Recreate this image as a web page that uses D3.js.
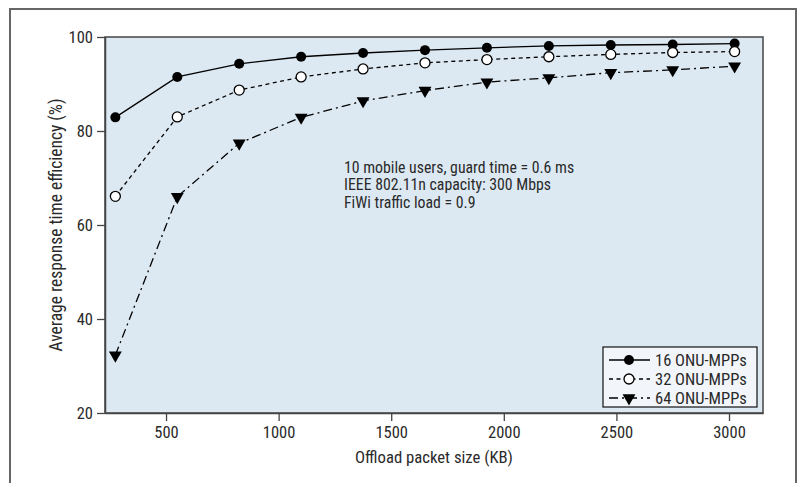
<!DOCTYPE html>
<html><head><meta charset="utf-8">
<script src="https://cdn.jsdelivr.net/npm/d3@7"></script>
<style>
body{margin:0;background:#fff;}
text{font-family:"Liberation Sans Narrow","Arial Narrow","Roboto Condensed",sans-serif;fill:#2a2a2a;}
</style></head><body>
<svg id="c" width="800" height="483"></svg>
<script>
const packetSizes = [275, 550, 825, 1100, 1375, 1650, 1925, 2200, 2475, 2750, 3025];
const eff16 = [82.9, 91.5, 94.3, 95.8, 96.6, 97.2, 97.7, 98.1, 98.3, 98.4, 98.6];
const eff32 = [66.1, 83.0, 88.7, 91.5, 93.2, 94.5, 95.2, 95.8, 96.3, 96.7, 96.9];
const eff64 = [32.3, 66.0, 77.4, 82.9, 86.4, 88.6, 90.4, 91.3, 92.4, 93.0, 93.8];
const seriesNames = ["16 ONU-MPPs", "32 ONU-MPPs", "64 ONU-MPPs"];
const xTicks = [500, 1000, 1500, 2000, 2500, 3000];
const yTicks = [20, 40, 60, 80, 100];
const noteLines = ["10 mobile users, guard time = 0.6 ms", "IEEE 802.11n capacity: 300 Mbps", "FiWi traffic load = 0.9"];

const svg = d3.select("#c");
const M = {l:105, t:37, r:763, b:413};

// outer frame (open at bottom)
svg.append("path").attr("d","M10,483V9H796V483").attr("fill","none").attr("stroke","#666").attr("stroke-width",2);

const x = d3.scaleLinear().domain([229, 3151]).range([M.l, M.r]);
const y = d3.scaleLinear().domain([20, 100]).range([M.b, M.t]);

svg.append("rect").attr("x",M.l).attr("y",M.t).attr("width",M.r-M.l).attr("height",M.b-M.t)
  .attr("fill","#dde9f2").attr("stroke","#444").attr("stroke-width",1.5);

const xa = svg.append("g").attr("transform",`translate(0,${M.b})`)
  .call(d3.axisBottom(x).tickValues(xTicks).tickFormat(d3.format("d")).tickSize(8).tickPadding(5).tickSizeOuter(0));
const ya = svg.append("g").attr("transform",`translate(${M.l},0)`)
  .call(d3.axisLeft(y).tickValues(yTicks).tickFormat(d3.format("d")).tickSize(8).tickPadding(4).tickSizeOuter(0));
[xa,ya].forEach(a=>{
  a.select(".domain").attr("stroke","#444").attr("stroke-width",1.5);
  a.selectAll(".tick line").attr("stroke","#444").attr("stroke-width",1.3);
  a.selectAll(".tick text").attr("font-size",16.5).attr("fill","#2a2a2a")
   .style("font-family",'"Liberation Sans Narrow","Arial Narrow","Roboto Condensed",sans-serif');
});

svg.append("text").attr("x",(M.l+M.r)/2).attr("y",463).attr("text-anchor","middle")
  .attr("font-size",16.7).text("Offload packet size (KB)");
svg.append("text").attr("transform",`translate(62,${(M.t+M.b)/2}) rotate(-90)`)
  .attr("text-anchor","middle").attr("font-size",17.5).text("Average response time efficiency (%)");

const series = [
  {vals:eff16, dash:null, marker:"dot"},
  {vals:eff32, dash:"4,3.5", marker:"open"},
  {vals:eff64, dash:"9,4,2,4", marker:"tri"}
];
const line = d3.line().x((d,i)=>x(packetSizes[i])).y(d=>y(d));
const triPath = d3.symbol().type(d3.symbolTriangle).size(72)();

function marker(g, m, cx, cy){
  if(m==="dot") g.append("circle").attr("cx",cx).attr("cy",cy).attr("r",5).attr("fill","#000");
  else if(m==="open") g.append("circle").attr("cx",cx).attr("cy",cy).attr("r",5).attr("fill","#fff").attr("stroke","#000").attr("stroke-width",1.3);
  else g.append("path").attr("d",triPath).attr("transform",`translate(${cx},${cy}) rotate(180)`).attr("fill","#000");
}

series.forEach(s=>{
  svg.append("path").datum(s.vals).attr("d",line).attr("fill","none").attr("stroke","#000")
    .attr("stroke-width",1.3).attr("stroke-dasharray",s.dash);
  const g = svg.append("g");
  s.vals.forEach((v,i)=>marker(g, s.marker, x(packetSizes[i]), y(v)));
});

// annotation
noteLines.forEach((t,i)=>{
  svg.append("text").attr("x",344).attr("y",172.5+i*17.5).attr("font-size",15.8).text(t);
});

// legend
const lg = svg.append("g");
lg.append("rect").attr("x",603).attr("y",347).attr("width",154).attr("height",60)
  .attr("fill","#f2f6fa").attr("stroke","#222").attr("stroke-width",1.3);
series.forEach((s,i)=>{
  const cy = 360 + i*19;
  lg.append("line").attr("x1",609).attr("x2",650).attr("y1",cy).attr("y2",cy)
    .attr("stroke","#000").attr("stroke-width",1.3).attr("stroke-dasharray",s.dash);
  marker(lg, s.marker, 629, cy);
  lg.append("text").attr("x",655).attr("y",cy+5.5).attr("font-size",16.5).text(seriesNames[i]);
});
</script>
</body></html>
